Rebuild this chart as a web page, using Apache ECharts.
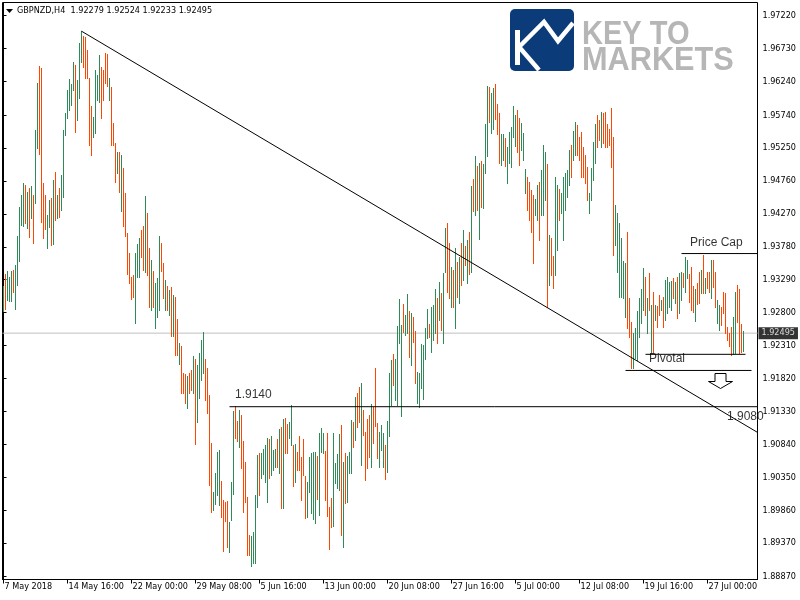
<!DOCTYPE html>
<html><head><meta charset="utf-8">
<script src="https://cdn.jsdelivr.net/npm/echarts@6/dist/echarts.min.js"></script>
<style>html,body{margin:0;padding:0;background:#fff}#c{width:800px;height:600px}</style>
</head><body><div id="c"></div>
<script>
// ---------------- data ----------------
const symbolName = 'GBPNZD,H4';
const headerOHLC = ['1.92279', '1.92524', '1.92233', '1.92495'];
const timeLabels = ['7 May 2018', '14 May 16:00', '22 May 00:00', '29 May 08:00', '5 Jun 16:00', '13 Jun 00:00',
  '20 Jun 08:00', '27 Jun 16:00', '5 Jul 00:00', '12 Jul 08:00', '19 Jul 16:00', '27 Jul 00:00'];
const timeLabelBars = [0, 32, 64, 96, 128, 160, 192, 224, 256, 288, 320, 352];
const priceTicks = ['1.97220', '1.96730', '1.96240', '1.95740', '1.95250', '1.94760', '1.94270', '1.93780', '1.93290',
  '1.92800', '1.92310', '1.91820', '1.91330', '1.90840', '1.90350', '1.89860', '1.89370', '1.88870'];
const bidPrice = 1.92495;

const highs = [
1.9320,1.9338,1.9342,1.9333,1.9342,1.9344,1.9351,1.9394,1.9437,1.9455,
1.9473,1.9470,1.9460,1.9466,1.9469,1.9455,1.9552,1.9622,1.9647,1.9644,
1.9473,1.9455,1.9425,1.9448,1.9451,1.9478,1.9489,1.9455,1.9466,1.9485,
1.9552,1.9577,1.9611,1.9628,1.9620,1.9653,1.9649,1.9626,1.9681,1.9699,
1.9692,1.9690,1.9671,1.9629,1.9588,1.9571,1.9641,1.9634,1.9664,1.9646,
1.9641,1.9666,1.9665,1.9629,1.9616,1.9562,1.9533,1.9519,1.9519,1.9515,
1.9495,1.9458,1.9399,1.9369,1.9333,1.9336,1.9369,1.9382,1.9391,1.9403,
1.9409,1.9454,1.9428,1.9376,1.9358,1.9342,1.9324,1.9332,1.9394,1.9384,
1.9354,1.9329,1.9320,1.9314,1.9318,1.9306,1.9303,1.9271,1.9235,1.9231,
1.9190,1.9189,1.9186,1.9190,1.9195,1.9215,1.9211,1.9202,1.9220,1.9239,
1.9251,1.9211,1.9198,1.9157,1.9086,1.9013,1.9041,1.9073,1.9076,1.9029,
1.9001,1.8998,1.9000,1.8968,1.9028,1.9134,1.9141,1.9119,1.9135,1.9128,
1.9089,1.9058,1.9006,1.8949,1.8948,1.8954,1.9009,1.9068,1.9071,1.9071,
1.9077,1.9083,1.9093,1.9092,1.9096,1.9076,1.9077,1.9092,1.9107,1.9110,
1.9122,1.9123,1.9114,1.9117,1.9143,1.9083,1.9085,1.9073,1.9096,1.9065,
1.9092,1.9037,1.9028,1.9065,1.9071,1.9073,1.9073,1.9067,1.9101,1.9108,
1.9101,1.9074,1.9101,1.8991,1.9004,1.9101,1.9056,1.9070,1.9099,1.9113,
1.9058,1.9071,1.9067,1.9073,1.9120,1.9117,1.9155,1.9160,1.9169,1.9175,
1.9135,1.9102,1.9122,1.9128,1.9144,1.9140,1.9198,1.9116,1.9102,1.9113,
1.9101,1.9083,1.9119,1.9190,1.9210,1.9218,1.9211,1.9260,1.9300,1.9262,
1.9293,1.9277,1.9308,1.9283,1.9280,1.9274,1.9253,1.9192,1.9190,1.9233,
1.9232,1.9257,1.9285,1.9263,1.9288,1.9291,1.9315,1.9302,1.9326,1.9309,
1.9339,1.9406,1.9413,1.9384,1.9348,1.9344,1.9376,1.9355,1.9363,1.9384,
1.9403,1.9379,1.9388,1.9400,1.9469,1.9479,1.9513,1.9498,1.9503,1.9506,
1.9501,1.9561,1.9617,1.9616,1.9607,1.9614,1.9620,1.9591,1.9577,1.9546,
1.9546,1.9540,1.9527,1.9549,1.9556,1.9588,1.9574,1.9582,1.9570,1.9562,
1.9547,1.9494,1.9482,1.9475,1.9463,1.9455,1.9449,1.9470,1.9475,1.9492,
1.9530,1.9519,1.9501,1.9396,1.9391,1.9364,1.9482,1.9470,1.9464,1.9458,
1.9482,1.9488,1.9492,1.9522,1.9530,1.9550,1.9564,1.9559,1.9541,1.9549,
1.9527,1.9515,1.9497,1.9458,1.9495,1.9534,1.9561,1.9574,1.9567,1.9579,
1.9577,1.9579,1.9561,1.9553,1.9585,1.9541,1.9440,1.9428,1.9413,1.9391,
1.9357,1.9354,1.9400,1.9302,1.9266,1.9250,1.9257,1.9282,1.9302,1.9315,
1.9346,1.9333,1.9302,1.9339,1.9291,1.9311,1.9291,1.9290,1.9306,1.9299,
1.9303,1.9329,1.9333,1.9326,1.9327,1.9332,1.9326,1.9333,1.9339,1.9341,
1.9339,1.9363,1.9358,1.9338,1.9348,1.9320,1.9315,1.9324,1.9341,1.9344,
1.9366,1.9332,1.9341,1.9341,1.9358,1.9358,1.9341,1.9299,1.9291,1.9288,
1.9311,1.9309,1.9259,1.9250,1.9259,1.9274,1.9311,1.9321,1.9315,1.9263,
1.9252];

const lows = [
1.9282,1.9285,1.9299,1.9297,1.9297,1.9311,1.9285,1.9321,1.9357,1.9410,
1.9409,1.9413,1.9406,1.9393,1.9421,1.9384,1.9443,1.9525,1.9516,1.9415,
1.9391,1.9405,1.9376,1.9408,1.9381,1.9382,1.9418,1.9421,1.9422,1.9433,
1.9452,1.9545,1.9570,1.9582,1.9589,1.9611,1.9549,1.9567,1.9600,1.9653,
1.9646,1.9629,1.9629,1.9530,1.9515,1.9541,1.9547,1.9597,1.9594,1.9570,
1.9597,1.9622,1.9617,1.9597,1.9530,1.9530,1.9475,1.9488,1.9460,1.9431,
1.9409,1.9394,1.9338,1.9324,1.9300,1.9303,1.9265,1.9333,1.9333,1.9363,
1.9344,1.9341,1.9336,1.9288,1.9284,1.9288,1.9257,1.9274,1.9284,1.9342,
1.9302,1.9284,1.9284,1.9277,1.9245,1.9245,1.9217,1.9217,1.9204,1.9160,
1.9160,1.9146,1.9138,1.9160,1.9165,1.9160,1.9085,1.9117,1.9153,1.9180,
1.9190,1.9150,1.9131,1.9024,1.8983,1.8986,1.8995,1.9009,1.8994,1.8976,
1.8925,1.8970,1.8931,1.8924,1.8971,1.9010,1.9093,1.9089,1.9080,1.9049,
1.8983,1.8998,1.8919,1.8919,1.8903,1.8907,1.8907,1.8991,1.9009,1.9034,
1.9040,1.9028,1.8998,1.9034,1.9038,1.9046,1.9050,1.9050,1.9041,1.8989,
1.8989,1.9071,1.9071,1.9093,1.9083,1.9022,1.9028,1.9046,1.9046,1.9001,
1.9038,1.8974,1.8976,1.9013,1.8982,1.8973,1.8967,1.9003,1.8979,1.9073,
1.9071,1.9001,1.8977,1.8928,1.8961,1.8962,1.9027,1.9019,1.9016,1.8949,
1.8931,1.8997,1.8998,1.9041,1.9041,1.9080,1.9090,1.9110,1.9117,1.9053,
1.9098,1.9031,1.9049,1.9065,1.9050,1.9086,1.9111,1.9064,1.9050,1.9076,
1.9050,1.9032,1.9043,1.9096,1.9143,1.9172,1.9150,1.9143,1.9235,1.9126,
1.9251,1.9247,1.9250,1.9214,1.9202,1.9236,1.9175,1.9146,1.9140,1.9168,
1.9152,1.9211,1.9242,1.9244,1.9221,1.9239,1.9250,1.9235,1.9269,1.9254,
1.9235,1.9341,1.9311,1.9302,1.9288,1.9288,1.9257,1.9303,1.9294,1.9321,
1.9329,1.9351,1.9324,1.9338,1.9341,1.9431,1.9425,1.9433,1.9390,1.9437,
1.9436,1.9488,1.9513,1.9564,1.9547,1.9553,1.9568,1.9546,1.9503,1.9500,
1.9507,1.9498,1.9473,1.9503,1.9497,1.9541,1.9528,1.9519,1.9500,1.9522,
1.9507,1.9458,1.9433,1.9418,1.9400,1.9354,1.9425,1.9418,1.9388,1.9425,
1.9425,1.9448,1.9288,1.9321,1.9336,1.9317,1.9336,1.9373,1.9418,1.9428,
1.9388,1.9433,1.9452,1.9470,1.9482,1.9507,1.9515,1.9515,1.9507,1.9482,
1.9482,1.9473,1.9448,1.9428,1.9448,1.9478,1.9503,1.9527,1.9537,1.9527,
1.9533,1.9527,1.9527,1.9530,1.9497,1.9366,1.9381,1.9341,1.9303,1.9303,
1.9302,1.9274,1.9257,1.9244,1.9198,1.9198,1.9213,1.9210,1.9244,1.9265,
1.9284,1.9277,1.9250,1.9284,1.9221,1.9221,1.9269,1.9259,1.9277,1.9284,
1.9259,1.9269,1.9280,1.9288,1.9284,1.9302,1.9294,1.9272,1.9280,1.9299,
1.9318,1.9311,1.9332,1.9296,1.9284,1.9281,1.9268,1.9293,1.9294,1.9309,
1.9309,1.9309,1.9317,1.9311,1.9302,1.9318,1.9288,1.9265,1.9254,1.9262,
1.9280,1.9250,1.9239,1.9230,1.9217,1.9218,1.9220,1.9266,1.9220,1.9221,
1.9223];

// u = bar closed up, d = bar closed down
const direction =
  'uduuuduuuu' + 'udududuudd' + 'dduudududu' + 'uuuuuuduuu' + 'ddddduuuud' +
  'dddudddudu' + 'dddddduuud' + 'dudduduuud' + 'dudududdud' + 'ddudduduuu' +
  'udddduuuud' + 'ddduuuddud' + 'dddduuuudu' + 'uuuduuudud' + 'udduududdd' +
  'dduuuuuduu' + 'udddduuuud' + 'uduuududdu' + 'dddduddduu' + 'uduuuduuuu' +
  'duududduuu' + 'uuuduuudud' + 'uuddududud' + 'ududududud' + 'uuuduudddu' +
  'uduuuuuddu' + 'uudddduudu' + 'uududduudu' + 'uuuuduuddd' + 'ddduuuuddu' +
  'dddddduuuu' + 'uuddduuuuu' + 'ududududdu' + 'duuuududuu' + 'duuddduddu' +
  'duddudduud' + 'ddddduuddd' + 'u';

// drawn objects, in (bar index, price)
const trendLine = [[39, 1.9699], [378, 1.9100]];
const level1914 = [[113, 1.9140], [381, 1.9140]];
const priceCapLine = [[339, 1.9368], [378, 1.9368]];
const pivotalLine = [[321, 1.9218], [371, 1.9218]];
const pivotalLowLine = [[311, 1.9194], [374, 1.9194]];
const noteTexts = ['1.9140', '1.9080', 'Price Cap', 'Pivotal'];
const noteBars = [115.75, 361.75, 343.25, 322.75];
const notePrices = [1.9158, 1.9125, 1.9384, 1.9211];
const arrowAt = [358.25, 1.9190];

// ---------------- chart ----------------
const UP = '#2E8B57', DOWN = '#FF4500';
const AX_FONT = '"DejaVu Sans Condensed", "DejaVu Sans", sans-serif';
const chart = echarts.init(document.getElementById('c'), null, {renderer: 'canvas'});

const barData = highs.map((h, i) => [i, h, lows[i], direction[i] === 'u' ? 1 : 0]);

function objLine(name, pts) {
  return {
    type: 'line', name: name, data: pts, showSymbol: false, symbol: 'none', clip: false, silent: true, z: 5,
    lineStyle: {color: '#000', width: 1}, animation: false
  };
}

const option = {
  animation: false,
  backgroundColor: '#fff',
  grid: {left: 2.5, top: 2.5, width: 755, height: 577, show: true, borderColor: '#000', borderWidth: 1, backgroundColor: '#fff'},
  xAxis: {
    type: 'value', min: -0.5, max: 377,
    axisLine: {show: true, lineStyle: {color: '#000', width: 1}},
    splitLine: {show: false},
    axisTick: {show: true, customValues: timeLabelBars, length: 4, lineStyle: {color: '#000'}},
    axisLabel: {
      customValues: timeLabelBars, margin: 3, align: 'left', padding: [0, 0, 0, 1],
      color: '#000', fontSize: 9, fontFamily: AX_FONT,
      formatter: v => timeLabels[timeLabelBars.indexOf(Math.round(v))] || ''
    }
  },
  yAxis: {
    type: 'value', position: 'right', min: 1.88828, max: 1.97417, scale: true,
    axisLine: {show: true, lineStyle: {color: '#000', width: 1}},
    splitLine: {show: false},
    axisTick: {show: true, customValues: priceTicks.map(Number), length: 3, lineStyle: {color: '#000'}},
    axisLabel: {
      customValues: priceTicks.map(Number), margin: 5, color: '#000', fontSize: 9, fontFamily: AX_FONT,
      formatter: v => {
        let best = priceTicks[0], d = 1;
        priceTicks.forEach(t => { const dd = Math.abs(Number(t) - v); if (dd < d) { d = dd; best = t; } });
        return best;
      }
    }
  },
  graphic: [
    {type: 'polygon', shape: {points: [[6, 9], [13, 9], [9.5, 13]]}, style: {fill: '#000'}, z: 10},
    {type: 'text', x: 17, y: 11, z: 10, style: {text: symbolName + '  ' + headerOHLC.join(' '), fill: '#000',
      font: '9px ' + AX_FONT, verticalAlign: 'middle', align: 'left'}},
    // logo
    {type: 'rect', z: 10, shape: {x: 510, y: 9, width: 64, height: 62, r: 5}, style: {fill: '#0c3b79'}},
    {type: 'rect', z: 11, shape: {x: 515, y: 30, width: 5, height: 35}, style: {fill: '#fff'}},
    {type: 'polyline', z: 11, shape: {points: [[519, 47], [544, 22], [558, 41], [573, 23]]},
      style: {stroke: '#fff', lineWidth: 4.5, fill: null, lineJoin: 'miter'}},
    {type: 'polyline', z: 11, shape: {points: [[520, 48], [539, 70]]}, style: {stroke: '#fff', lineWidth: 4.5, fill: null}},
    {type: 'text', z: 10, x: 582, y: 34.5, scaleX: 0.88, style: {text: 'KEY TO', fill: '#b6b6b6',
      font: 'bold 33px "Liberation Sans", Arial, sans-serif', verticalAlign: 'middle', align: 'left'}},
    {type: 'text', z: 10, x: 582, y: 61, scaleX: 0.93, style: {text: 'MARKETS', fill: '#b6b6b6',
      font: 'bold 33px "Liberation Sans", Arial, sans-serif', verticalAlign: 'middle', align: 'left'}}
  ],
  series: [
    { // bid line
      type: 'line', data: [[-0.5, bidPrice], [377, bidPrice]], showSymbol: false, symbol: 'none', silent: true, z: 1,
      lineStyle: {color: '#c0c0c0', width: 1}
    },
    { // bars
      type: 'custom', z: 2, silent: true, data: barData,
      renderItem: function (params, api) {
        const i = api.value(0);
        const top = api.coord([i, api.value(1)]);
        const bot = api.coord([i, api.value(2)]);
        const x = Math.floor(top[0]) + 0.5;
        return {type: 'line', shape: {x1: x, y1: Math.round(top[1]), x2: x, y2: Math.round(bot[1]) + 1},
          style: {stroke: api.value(3) ? UP : DOWN, lineWidth: 1}};
      }
    },
    objLine('trend', trendLine),
    objLine('1.9140', level1914),
    objLine('priceCap', priceCapLine),
    objLine('pivotal', pivotalLine),
    objLine('pivotalLow', pivotalLowLine),
    { // texts of drawn objects
      type: 'scatter', symbol: 'circle', symbolSize: 0, silent: true, z: 6, clip: false,
      data: noteTexts.map((t, k) => ({name: t, value: [noteBars[k], notePrices[k]]})),
      label: {show: true, position: 'right', distance: 0, formatter: p => p.name, color: '#000',
        fontSize: 12, fontFamily: '"Liberation Sans", Arial, sans-serif'}
    },
    { // down arrow
      type: 'custom', z: 6, silent: true, clip: false, data: [arrowAt],
      renderItem: function (params, api) {
        const p = api.coord([api.value(0), api.value(1)]);
        const cx = Math.round(p[0]) + 0.5, ty = Math.round(p[1]) + 0.5;
        return {type: 'polygon', shape: {points: [[cx - 5.5, ty], [cx + 5.5, ty], [cx + 5.5, ty + 8], [cx + 12, ty + 8],
          [cx, ty + 15], [cx - 12, ty + 8], [cx - 5.5, ty + 8]]}, style: {fill: '#fff', stroke: '#000', lineWidth: 1}};
      }
    },
    { // bid price tag
      type: 'scatter', symbol: 'circle', symbolSize: 0, silent: true, z: 7, clip: false,
      data: [[377, bidPrice]],
      label: {show: true, position: 'right', distance: 1, formatter: () => bidPrice.toFixed(5), color: '#fff',
        backgroundColor: '#000', padding: [1, 3, 0, 3], lineHeight: 11, fontSize: 9, fontFamily: AX_FONT}
    }
  ]
};
chart.setOption(option);
</script>
</body></html>
